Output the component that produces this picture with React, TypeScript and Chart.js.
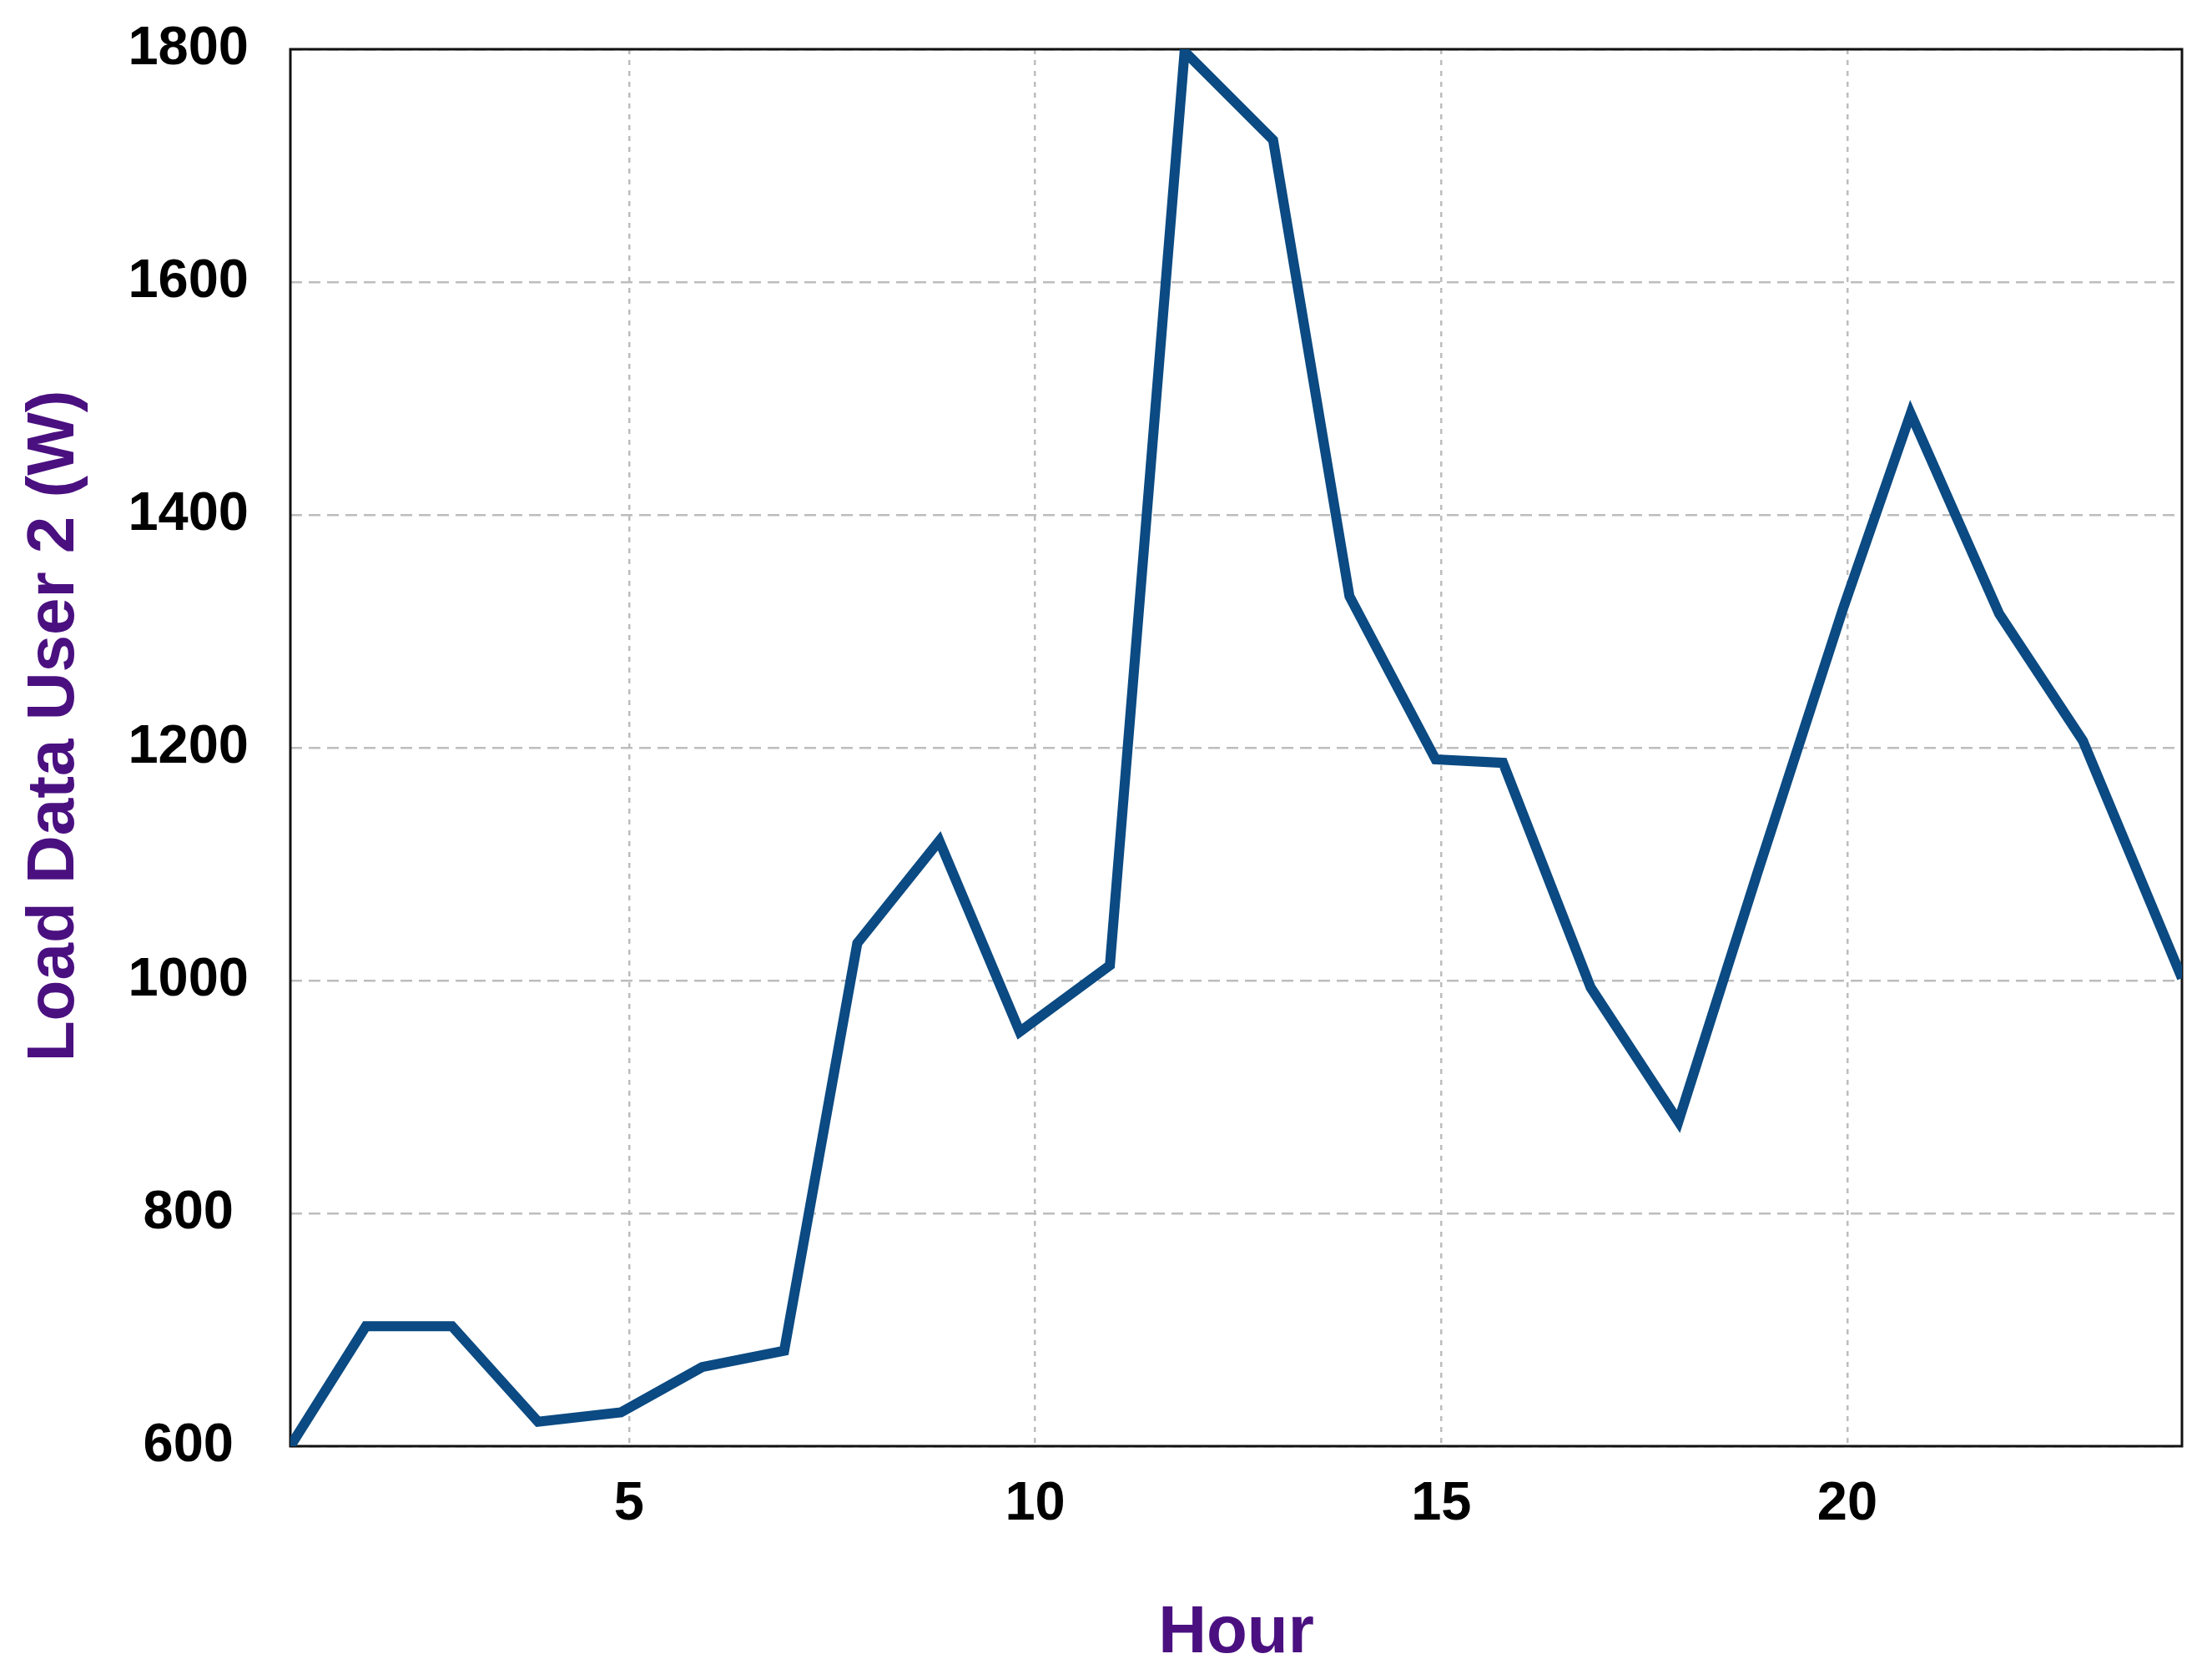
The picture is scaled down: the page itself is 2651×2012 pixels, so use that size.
import React, { useEffect, useRef } from 'react';
import { Chart, registerables } from 'chart.js';

Chart.register(...registerables);

// Hour positions (slightly irregular spacing)
const hours = [0.83, 1.76, 2.82, 3.88, 4.9, 5.9, 6.91, 7.81, 8.82, 9.81, 10.92, 11.84, 12.93, 13.87, 14.93, 15.76, 16.84, 17.92, 18.9, 19.95, 20.78, 21.87, 22.9, 24.12];
// Load Data User 2 (W)
const loadW = [600, 703, 703, 621, 629, 668, 682, 1032, 1120, 956, 1013, 1798, 1722, 1330, 1190, 1187, 994, 879, 1094, 1320, 1487, 1315, 1206, 1002];
const xTicks = [5, 10, 15, 20];
const yTicks = [600, 800, 1000, 1200, 1400, 1600, 1800];

const X_MIN = 0.83;
const X_MAX = 24.12;
const Y_MIN = 600;
const Y_MAX = 1800;

const X_TITLE = 'Hour';
const Y_TITLE = 'Load Data User 2 (W)';

const FONT = "'Liberation Sans', Arial, Helvetica, sans-serif";
const PURPLE = '#4a1080';
const LINE = '#0b4a82';

const framePlugin = {
  id: 'frame',
  beforeDatasetsDraw(chart: any) {
    const { ctx, chartArea } = chart;
    const { left, top, right, bottom } = chartArea;
    ctx.save();
    ctx.strokeStyle = '#111';
    ctx.lineWidth = 3;
    ctx.strokeRect(left, top, right - left, bottom - top);
    ctx.restore();
  },
};

const yTitlePlugin = {
  id: 'yTitle',
  afterDraw(chart: any) {
    const { ctx } = chart;
    ctx.save();
    ctx.translate(66, 870);
    ctx.rotate(-Math.PI / 2);
    ctx.fillStyle = PURPLE;
    ctx.font = `bold 80px ${FONT}`;
    ctx.textAlign = 'center';
    ctx.textBaseline = 'middle';
    ctx.fillText(Y_TITLE, 0, 0);
    ctx.restore();
  },
};

export default function App() {
  const ref = useRef<HTMLCanvasElement | null>(null);

  useEffect(() => {
    if (!ref.current) return;
    const chart = new Chart(ref.current, {
      type: 'line',
      data: {
        datasets: [
          {
            label: Y_TITLE,
            data: hours.map((h, i) => ({ x: h, y: loadW[i] })),
            borderColor: LINE,
            borderWidth: 12,
            pointRadius: 0,
            tension: 0,
            borderJoinStyle: 'miter',
            fill: false,
          },
        ],
      },
      options: {
        responsive: false,
        devicePixelRatio: 1,
        animation: false,
        layout: { autoPadding: false, padding: { left: 0, right: 36, top: 59, bottom: 0 } },
        plugins: {
          legend: { display: false },
          tooltip: { enabled: false },
        },
        scales: {
          x: {
            type: 'linear',
            min: X_MIN,
            max: X_MAX,
            afterBuildTicks: (scale: any) => {
              scale.ticks = xTicks.map((v) => ({ value: v }));
            },
            afterFit: (scale: any) => {
              scale.height = 279;
              scale.paddingLeft = 0;
              scale.paddingRight = 0;
            },
            grid: {
              color: '#bdbdbd',
              lineWidth: 2.5,
              drawTicks: false,
            },
            border: { display: false, dash: [6, 7] },
            ticks: {
              padding: 31,
              color: '#000',
              font: { family: FONT, size: 65, weight: 'bold' },
              maxRotation: 0,
              callback: (v: any) => String(v),
            },
            title: {
              display: true,
              text: X_TITLE,
              color: PURPLE,
              font: { family: FONT, size: 80, weight: 'bold' },
              padding: { top: 0, bottom: 6 },
            },
          },
          y: {
            type: 'linear',
            min: Y_MIN,
            max: Y_MAX,
            afterBuildTicks: (scale: any) => {
              scale.ticks = yTicks.map((v) => ({ value: v }));
            },
            afterFit: (scale: any) => {
              scale.width = 348;
              scale.paddingTop = 0;
              scale.paddingBottom = 0;
            },
            grid: {
              color: '#bdbdbd',
              lineWidth: 2.5,
              drawTicks: false,
            },
            border: { display: false, dash: [14, 8] },
            ticks: {
              padding: 50,
              crossAlign: 'center',
              color: '#000',
              font: { family: FONT, size: 65, weight: 'bold' },
              callback: (v: any) => String(v),
            },
            title: { display: false },
          },
        },
      } as any,
      plugins: [framePlugin, yTitlePlugin],
    });
    return () => chart.destroy();
  }, []);

  return (
    <div style={{ position: 'fixed', left: 0, top: 0, width: 2651, height: 2012, background: '#fff' }}>
      <canvas ref={ref} width={2651} height={2012} style={{ display: 'block', width: 2651, height: 2012 }} />
    </div>
  );
}
